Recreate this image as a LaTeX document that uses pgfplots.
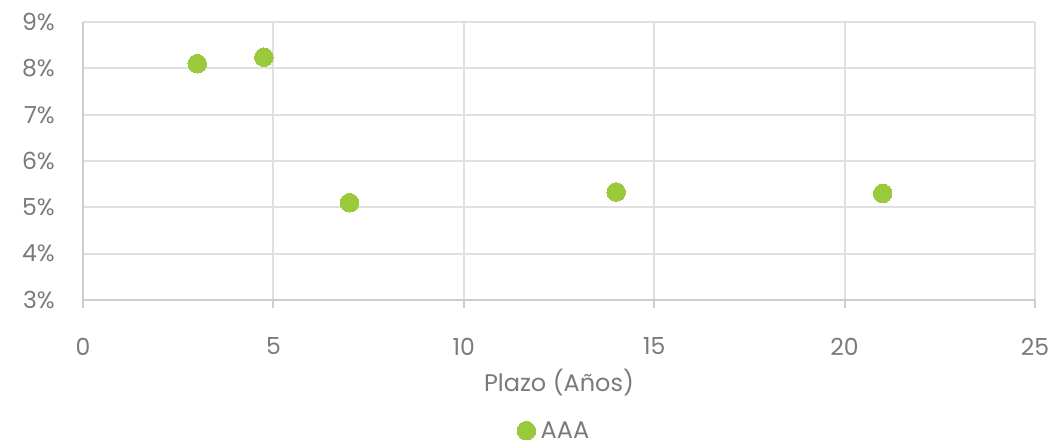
\documentclass[border=0pt]{standalone}
\usepackage{fontspec}
\setmainfont{Poppins}
\usepackage{pgfplots}
\pgfplotsset{compat=1.18}
\definecolor{txtgray}{HTML}{7A7A7A}
\definecolor{gridgray}{HTML}{E0E0E0}
\definecolor{axgray}{HTML}{CDCDCD}
\definecolor{aaagreen}{HTML}{9ACA3C}
\begin{document}
\begin{tikzpicture}
\useasboundingbox (0,0) rectangle (1051bp,445bp);
\begin{axis}[
  at={(83bp,145bp)}, anchor=south west,
  scale only axis, width=952bp, height=278bp,
  xmin=0, xmax=25, ymin=3, ymax=9,
  xtick={0,5,...,25}, ytick={3,4,...,9},
  /pgf/number format/assume math mode=true,
  xmajorgrids, ymajorgrids,
  major grid style={gridgray, line width=2bp},
  axis line style={draw=none},
  axis x line*=bottom, axis y line*=left,
  x axis line style={draw=axgray, line width=2bp},
  y axis line style={draw=axgray, line width=2bp},
  xtick style={draw=axgray, line width=2bp},
  ytick style={draw=none},
  major tick length=8bp,
  xtick align=outside,
  yticklabel={\pgfmathprintnumber{\tick}\%},
  tick label style={font=\fontsize{23.5bp}{28bp}\selectfont},
  xticklabel style={text=txtgray, inner sep=0pt, anchor=center, yshift=-38.5bp},
  yticklabel style={text=txtgray, inner sep=0pt, anchor=east, xshift=-28bp},
  xlabel={Plazo (Años)},
  every axis x label/.style={at={(axis description cs:0.5,-0.2986)}, anchor=center, text=txtgray, inner sep=0pt, font=\fontsize{24bp}{28bp}\selectfont},
  legend style={at={(axis description cs:0.4965,-0.470)}, anchor=center, draw=none, fill=none, text=txtgray, font=\fontsize{24bp}{28bp}\selectfont, inner sep=0pt, nodes={inner ysep=0bp, inner xsep=5bp}},
  legend cell align=left,
  clip=false,
]
\addplot[only marks, color=aaagreen, mark=*, mark size=9.3bp, mark options={fill=aaagreen, draw=aaagreen, line width=0pt}]
  coordinates {(3,8.10) (4.75,8.24) (7,5.10) (14,5.33) (21,5.30)};
\addlegendentry{AAA}
\end{axis}
\end{tikzpicture}
\end{document}
